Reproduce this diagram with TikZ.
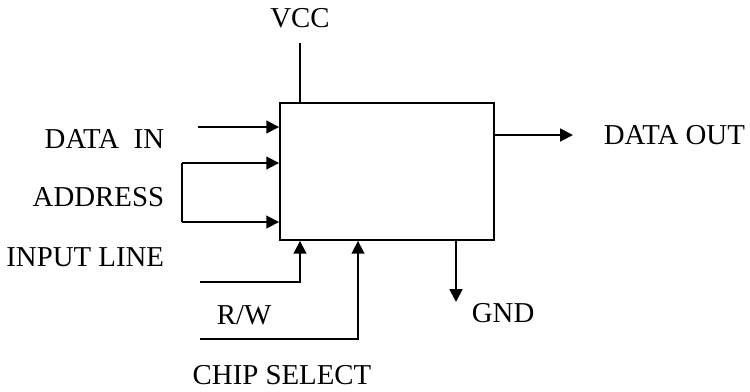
\documentclass[tikz,border=0pt]{standalone}
\usepackage{fontspec}
\setmainfont{Liberation Serif}
\usetikzlibrary{arrows.meta,positioning}
\begin{document}
\begin{tikzpicture}[x=0.025cm, y=-0.025cm, line width=1.3pt,
  every node/.style={font=\fontsize{20.5}{24}\selectfont, inner sep=0pt},
  sig/.style={-{Triangle[length=0.32cm,width=0.32cm]}}]
\useasboundingbox (0,0) rectangle (750,391);
% memory block
\node[draw, minimum width=5.35cm, minimum height=3.425cm] (mem) at (387,171.5) {};
% labels
\node (vcc) at (300,18) {VCC};
\node[anchor=east] (din) at (165,139) {DATA\ \ IN};
\node[anchor=east] (addr) at (165,197) {ADDRESS};
\node[anchor=east] (inl) at (165,257) {INPUT LINE};
\node (rw) at (244,315) {R/W};
\node (cs) at (282,375) {CHIP SELECT};
\node[anchor=west] (dout) at (603,135) {DATA OUT};
\node[anchor=west] (gnd) at (471,313) {GND};
% free ends
\coordinate (vcctop) at (300,43);
\coordinate (dinA) at (198,127);
\coordinate (adrA) at (182,163);
\coordinate (adrB) at (182,222);
\coordinate (rwA) at (200,282);
\coordinate (rwB) at (300,282);
\coordinate (csA) at (200,339);
\coordinate (csB) at (358,339);
\coordinate (doutA) at (494,135);
\coordinate (doutB) at (573,135);
\coordinate (gndA) at (456,240);
\coordinate (gndB) at (456,302);
% connectors
\draw (vcctop) -- (vcctop |- mem.north);
\draw[sig] (dinA) -- (dinA -| mem.west);
\draw[sig] (adrA) -- (adrA -| mem.west);
\draw[sig] (adrB) -- (adrB -| mem.west);
\draw (adrA) -- (adrB);
\draw[sig] (rwA) -- (rwB) -- (rwB |- mem.south);
\draw[sig] (csA) -- (csB) -- (csB |- mem.south);
\draw[sig] (doutA) -- (doutB);
\draw[sig] (gndA) -- (gndB);
\end{tikzpicture}
\end{document}
